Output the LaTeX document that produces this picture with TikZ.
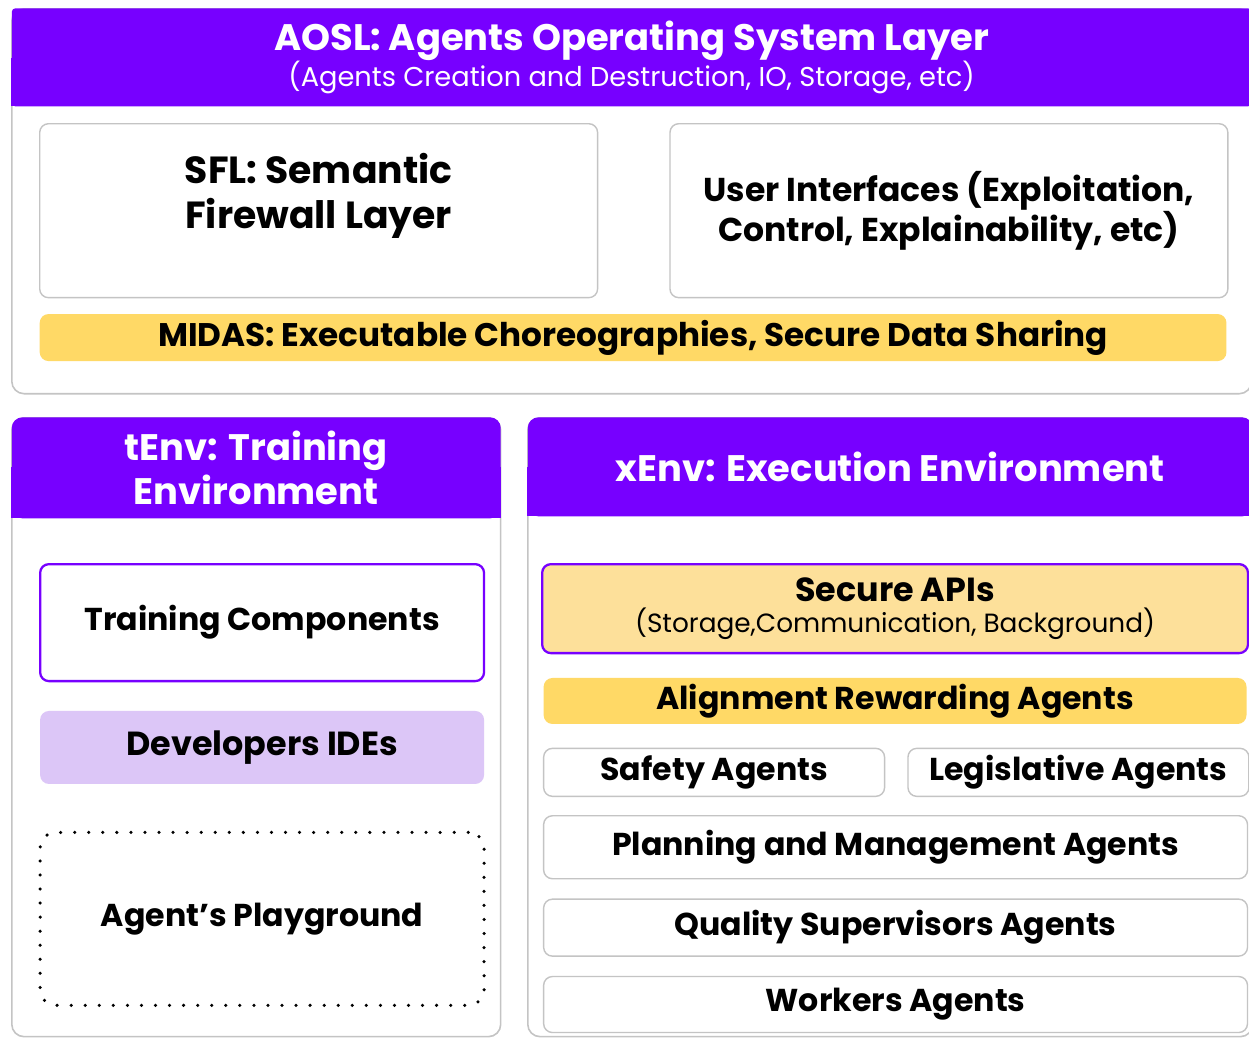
\documentclass[tikz,border=0pt]{standalone}
\usepackage{fontspec}
\setmainfont{Poppins}
\usepackage{tikz}
\usetikzlibrary{positioning}
\definecolor{layerpurple}{HTML}{7700FF}
\definecolor{midasgold}{HTML}{FFD966}
\definecolor{apigold}{HTML}{FDE09A}
\definecolor{idelilac}{HTML}{DCC6F7}
\definecolor{framegray}{HTML}{C4C4C4}
\tikzstyle{panel} = [draw=framegray,line width=0.9pt,fill=white,rounded corners=7pt,anchor=north west,inner sep=0pt]
\tikzstyle{header} = [fill=layerpurple,text=white,rounded corners=6pt,align=center,anchor=north,inner sep=0pt,font=\bfseries\fontsize{21}{25.5}\selectfont]
\tikzstyle{box} = [draw=framegray,line width=0.8pt,rounded corners=5pt,anchor=north west,inner sep=0pt,align=center,font=\bfseries\fontsize{18}{21}\selectfont]
\tikzstyle{goldbar} = [box,draw=none,fill=midasgold]
\tikzstyle{purplebox} = [box,draw=layerpurple,line width=1.3pt]
\tikzstyle{playground} = [box,draw=black,line width=2pt,dash pattern=on 0pt off 8pt,line cap=round,rounded corners=9pt]

\begin{document}
\begin{tikzpicture}[x=0.02cm,y=-0.02cm]
\useasboundingbox[fill=white] (0,0) rectangle (1249,1038);

%Panels
\node[panel,minimum width=24.8cm,minimum height=7.7cm] (aosl) at (11,8) {};
\node[panel,minimum width=9.78cm,minimum height=12.38cm] (tenv) at (11,417) {};
\node[panel,minimum width=14.5cm,minimum height=12.38cm] (xenv) at (527,417) {};

%Headers
\fill[layerpurple] ([yshift=-1cm]aosl.north west) rectangle ([yshift=-1.96cm]aosl.north east);
\fill[layerpurple] ([yshift=-1cm]tenv.north west) rectangle ([yshift=-2.02cm]tenv.north east);
\fill[layerpurple] ([yshift=-1cm]xenv.north west) rectangle ([yshift=-1.98cm]xenv.north east);
\node[header,rounded corners=2pt,minimum width=24.8cm,minimum height=1.96cm] (aoslhead) at (aosl.north) {AOSL: Agents Operating System Layer\\[-5pt]{\mdseries\fontsize{15.5}{18}\selectfont (Agents Creation and Destruction, IO, Storage, etc)}};
\node[header,minimum width=9.78cm,minimum height=2.02cm] (tenvhead) at (tenv.north) {tEnv: Training\\Environment};
\node[header,minimum width=14.5cm,minimum height=1.98cm] (xenvhead) at (xenv.north) {xEnv: Execution Environment};

%AOSL layer
\node[box,minimum width=11.16cm,minimum height=3.48cm] (sfl) at (39,123) {};
\node[font=\bfseries\fontsize{21.5}{25.5}\selectfont,align=center] (sfltext) at ([yshift=0.3cm]sfl.center) {SFL: Semantic\\Firewall Layer};
\node[box,font=\bfseries\fontsize{18.8}{22.5}\selectfont,minimum width=11.16cm,minimum height=3.48cm,right=1.42cm of sfl] (ui) {User Interfaces (Exploitation,\\Control, Explainability, etc)};
\node[goldbar,font=\bfseries\fontsize{18.6}{22}\selectfont,minimum width=23.74cm,minimum height=0.94cm,below right=0.3cm and 0cm of sfl.south west] (midas) {MIDAS: Executable Choreographies, Secure Data Sharing};

%Training environment
\node[purplebox,minimum width=8.88cm,minimum height=2.34cm] (traincomp) at (39,563) {Training Components};
\node[goldbar,fill=idelilac,font=\bfseries\fontsize{19}{22}\selectfont,minimum width=8.88cm,minimum height=1.46cm,below=0.56cm of traincomp] (devide) {Developers IDEs};
\node[playground,minimum width=8.88cm,minimum height=3.46cm,below=0.92cm of devide] (playgr) {Agent’s Playground};

%Execution environment
\node[purplebox,fill=apigold,font=\bfseries\fontsize{19}{22}\selectfont,minimum width=14.12cm,minimum height=1.78cm] (secapi) at (541,563) {Secure APIs\\[-4pt]{\mdseries\fontsize{15}{18}\selectfont (Storage,Communication, Background)}};
\node[goldbar,minimum width=14.06cm,minimum height=0.92cm,below=0.46cm of secapi] (align) {Alignment Rewarding Agents};
\node[box,minimum width=6.82cm,minimum height=0.96cm,below right=0.46cm and 0cm of align.south west] (safety) {Safety Agents};
\node[box,minimum width=6.82cm,minimum height=0.96cm,right=0.44cm of safety] (legis) {Legislative Agents};
\node[box,minimum width=14.08cm,minimum height=1.26cm,below right=0.36cm and 0cm of safety.south west] (planning) {Planning and Management Agents};
\node[box,minimum width=14.08cm,minimum height=1.14cm,below=0.38cm of planning] (quality) {Quality Supervisors Agents};
\node[box,minimum width=14.08cm,minimum height=1.12cm,below=0.38cm of quality] (workers) {Workers Agents};

\end{tikzpicture}
\end{document}
